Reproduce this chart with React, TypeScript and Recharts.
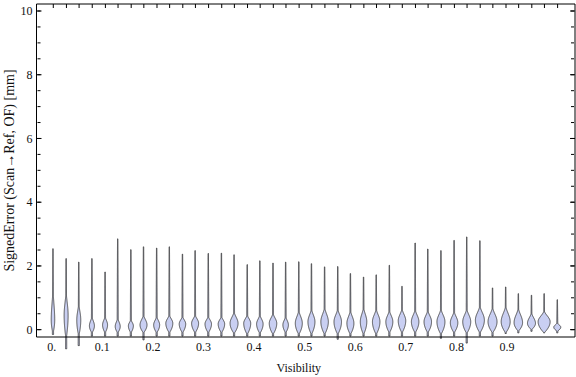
import React from 'react';
import { ComposedChart, Bar, Line, XAxis, YAxis } from 'recharts';

// violin positions (visibility bins)
const visibility = [
  0.003, 0.029, 0.054, 0.08, 0.106, 0.131, 0.157, 0.182, 0.208, 0.233,
  0.259, 0.284, 0.31, 0.336, 0.361, 0.387, 0.412, 0.438, 0.463, 0.489,
  0.514, 0.54, 0.566, 0.591, 0.617, 0.642, 0.668, 0.693, 0.719, 0.744,
  0.77, 0.796, 0.821, 0.847, 0.872, 0.898, 0.923, 0.949, 0.974, 1.0,
];
// largest signed error per bin [mm]
const tailMax = [
  2.54, 2.23, 2.12, 2.23, 1.81, 2.85, 2.51, 2.6, 2.56, 2.6,
  2.37, 2.48, 2.39, 2.4, 2.35, 2.04, 2.16, 2.09, 2.12, 2.13,
  2.07, 1.97, 1.98, 1.76, 1.65, 1.72, 2.02, 1.36, 2.72, 2.53,
  2.48, 2.8, 2.91, 2.79, 1.31, 1.34, 1.13, 1.08, 1.13, 0.94,
];
// smallest signed error per bin [mm]
const tailMin = [
  -0.15, -0.6, -0.5, -0.2, -0.2, -0.2, -0.2, -0.32, -0.2, -0.2,
  -0.2, -0.2, -0.2, -0.2, -0.2, -0.2, -0.2, -0.2, -0.2, -0.2,
  -0.2, -0.2, -0.3, -0.2, -0.2, -0.2, -0.2, -0.2, -0.2, -0.2,
  -0.27, -0.2, -0.42, -0.2, -0.2, -0.12, -0.1, -0.05, -0.1, -0.1,
];
// bulk of the distribution: lower edge, mode, upper edge
const bodyLow = [
  -0.12, -0.3, -0.2, -0.1, -0.1, -0.1, -0.1, -0.1, -0.1, -0.1,
  -0.1, -0.1, -0.1, -0.1, -0.12, -0.15, -0.12, -0.15, -0.1, -0.15,
  -0.15, -0.15, -0.15, -0.15, -0.15, -0.15, -0.1, -0.1, -0.1, -0.1,
  -0.15, -0.1, -0.12, -0.1, -0.1, -0.1, -0.05, 0.0, -0.1, -0.05,
];
const bodyMode = [
  0.3, 0.45, 0.3, 0.12, 0.15, 0.1, 0.12, 0.15, 0.15, 0.2,
  0.18, 0.2, 0.18, 0.18, 0.2, 0.2, 0.18, 0.2, 0.15, 0.2,
  0.25, 0.25, 0.25, 0.2, 0.25, 0.25, 0.25, 0.28, 0.25, 0.25,
  0.25, 0.22, 0.25, 0.3, 0.25, 0.25, 0.22, 0.2, 0.25, 0.08,
];
const bodyHigh = [
  1.4, 1.3, 0.9, 0.45, 0.45, 0.4, 0.35, 0.5, 0.45, 0.5,
  0.45, 0.5, 0.45, 0.45, 0.6, 0.5, 0.5, 0.55, 0.45, 0.65,
  0.7, 0.75, 0.7, 0.65, 0.75, 0.7, 0.65, 0.7, 0.68, 0.65,
  0.7, 0.62, 0.7, 0.8, 0.75, 0.8, 0.73, 0.57, 0.63, 0.23,
];
// relative peak density
const density = [
  0.35, 0.4, 0.4, 0.5, 0.5, 0.5, 0.5, 0.7, 0.6, 0.7,
  0.65, 0.7, 0.65, 0.65, 0.8, 0.7, 0.65, 0.75, 0.55, 0.7,
  0.7, 0.75, 0.75, 0.7, 0.65, 0.75, 0.7, 0.75, 0.75, 0.75,
  0.8, 0.75, 0.8, 0.9, 0.9, 0.9, 0.85, 0.8, 1.2, 0.7,
];

const xTicks = [0, 0.1, 0.2, 0.3, 0.4, 0.5, 0.6, 0.7, 0.8, 0.9];
const yTicks = [0, 2, 4, 6, 8, 10];
const yMinorTicks = [
  0, 0.5, 1, 1.5, 2, 2.5, 3, 3.5, 4, 4.5, 5, 5.5, 6, 6.5, 7, 7.5, 8, 8.5, 9, 9.5, 10,
];

const X_DOMAIN = [-0.0302, 1.0344];
const Y_DOMAIN = [-0.23, 10.22];
const FONT = "'Liberation Serif', 'Times New Roman', serif";
const PX_PER_DENSITY = 10;

const data = visibility.map((v, i) => ({
  vis: v,
  range: [0, tailMax[i]],
  max: tailMax[i],
  min: tailMin[i],
  low: bodyLow[i],
  mode: bodyMode[i],
  high: bodyHigh[i],
  dens: density[i],
}));

const Violin = (props: any) => {
  const { x, y, width, height, payload } = props;
  const top = Math.min(y, y + height);
  const zero = Math.max(y, y + height);
  const pxPerUnit = (zero - top) / payload.max;
  const toPx = (v: number) => zero - v * pxPerUnit;
  const cx = x + width / 2;

  const halfW = (payload.dens * PX_PER_DENSITY) / 2;
  const span = payload.max - payload.min;

  const widthAt = (v: number) => {
    let body = 0;
    if (v >= payload.low && v <= payload.mode) {
      const t = (v - payload.low) / (payload.mode - payload.low);
      body = halfW * Math.pow(Math.sin((Math.PI / 2) * t), 0.9);
    } else if (v > payload.mode && v <= payload.high) {
      const t = (v - payload.mode) / (payload.high - payload.mode);
      body = halfW * (0.5 + 0.5 * Math.cos(Math.PI * t));
    }
    const tail = 0.6 - 0.4 * ((v - payload.min) / span);
    return Math.max(body, tail);
  };

  const steps = Math.max(20, Math.ceil(span * pxPerUnit * 2));
  const right: string[] = [];
  const left: string[] = [];
  for (let k = 0; k <= steps; k++) {
    const v = payload.min + (span * k) / steps;
    const w = widthAt(v);
    const py = toPx(v);
    right.push(`${(cx + w).toFixed(2)},${py.toFixed(2)}`);
    left.unshift(`${(cx - w).toFixed(2)},${py.toFixed(2)}`);
  }
  return (
    <polygon
      points={[...right, ...left].join(' ')}
      fill="#c9cff2"
      stroke="#3a3a3a"
      strokeWidth={0.85}
      strokeLinejoin="round"
    />
  );
};

const YLabel = (props: any) => {
  const { viewBox } = props;
  const cx = viewBox.x + 9;
  const cy = viewBox.y + viewBox.height / 2;
  return (
    <text
      x={cx}
      y={cy}
      transform={`rotate(-90 ${cx} ${cy})`}
      textAnchor="middle"
      dominantBaseline="central"
      fontFamily={FONT}
      fontSize={14}
      fill="#111"
    >
      SignedError (Scan→Ref, OF) [mm]
    </text>
  );
};

const NoLabel = () => <g />;

const frame = { stroke: '#000', strokeWidth: 1 };
const tickStroke = { stroke: '#000', strokeWidth: 1 };
const decorAxes = ['leftMajor', 'leftMinor', 'rightMajor', 'rightMinor'];

export default function App() {
  return (
    <div style={{ position: 'absolute', left: 0, top: 0, background: '#fff' }}>
      <ComposedChart
        width={576}
        height={377}
        data={data}
        margin={{ top: 4, right: 1, bottom: 0, left: 0 }}
      >
        <XAxis
          xAxisId="bottom"
          dataKey="vis"
          type="number"
          domain={X_DOMAIN}
          ticks={xTicks}
          interval={0}
          tickLine={false}
          tickSize={3}
          tickMargin={2}
          height={40}
          axisLine={frame}
          tick={{ fontSize: 12, fill: '#111', fontFamily: FONT }}
          tickFormatter={(v: number) => (v === 0 ? '0.' : v.toFixed(1))}
          label={{
            value: 'Visibility',
            position: 'insideBottom',
            offset: 5,
            dx: -7,
            style: { fontSize: 12, fill: '#111', fontFamily: FONT },
          }}
        />
        <XAxis
          xAxisId="top"
          dataKey="vis"
          orientation="top"
          type="number"
          domain={X_DOMAIN}
          allowDataOverflow
          ticks={visibility}
          interval={0}
          mirror
          tick={NoLabel}
          tickSize={4}
          tickLine={tickStroke}
          height={1}
          axisLine={frame}
        />
        <YAxis
          yAxisId="left"
          type="number"
          domain={Y_DOMAIN}
          ticks={yTicks}
          interval={0}
          tickLine={false}
          tickSize={2}
          tickMargin={2}
          width={36.5}
          axisLine={frame}
          tick={{ fontSize: 12, fill: '#111', fontFamily: FONT }}
          label={{ content: (p: any) => <YLabel {...p} /> }}
        />
        <YAxis
          yAxisId="leftMajor"
          type="number"
          domain={Y_DOMAIN}
          allowDataOverflow
          ticks={yTicks}
          interval={0}
          mirror
          tick={NoLabel}
          tickSize={5}
          tickLine={tickStroke}
          axisLine={false}
          width={1}
        />
        <YAxis
          yAxisId="leftMinor"
          type="number"
          domain={Y_DOMAIN}
          allowDataOverflow
          ticks={yMinorTicks}
          interval={0}
          mirror
          tick={NoLabel}
          tickSize={3}
          tickLine={tickStroke}
          axisLine={false}
          width={1}
        />
        <YAxis
          yAxisId="rightMajor"
          orientation="right"
          type="number"
          domain={Y_DOMAIN}
          allowDataOverflow
          ticks={yTicks}
          interval={0}
          mirror
          tick={NoLabel}
          tickSize={5}
          tickLine={tickStroke}
          axisLine={frame}
          width={1}
        />
        <YAxis
          yAxisId="rightMinor"
          orientation="right"
          type="number"
          domain={Y_DOMAIN}
          allowDataOverflow
          ticks={yMinorTicks}
          interval={0}
          mirror
          tick={NoLabel}
          tickSize={3}
          tickLine={tickStroke}
          axisLine={false}
          width={1}
        />
        {decorAxes.map((id) => (
          <Line
            key={id}
            xAxisId="top"
            yAxisId={id}
            dataKey="max"
            stroke="none"
            dot={false}
            activeDot={false}
            legendType="none"
            isAnimationActive={false}
          />
        ))}
        <Bar
          xAxisId="bottom"
          yAxisId="left"
          dataKey="range"
          barSize={2}
          shape={<Violin />}
          isAnimationActive={false}
        />
      </ComposedChart>
    </div>
  );
}
